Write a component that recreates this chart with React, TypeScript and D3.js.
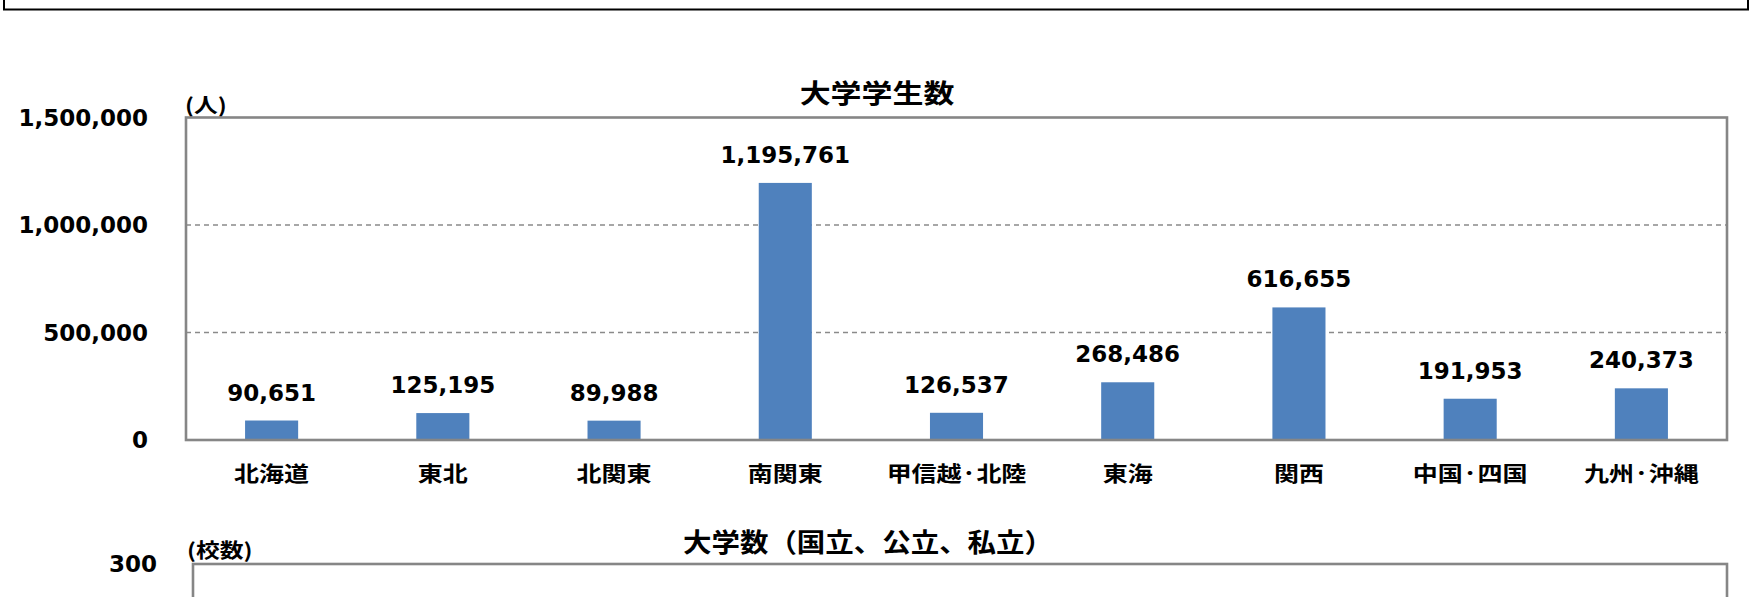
import * as d3 from 'd3';

const CATEGORIES = ['北海道', '東北', '北関東', '南関東', '甲信越·北陸', '東海', '関西', '中国·四国', '九州·沖縄'];
const STUDENTS = [90651, 125195, 89988, 1195761, 126537, 268486, 616655, 191953, 240373];
const STUDENT_TICKS = [0, 500000, 1000000, 1500000];
const SCHOOL_TICKS = [0, 100, 200, 300];

const WIDTH = 1754;
const HEIGHT = 597;
const NUM_FONT = '"DejaVu Sans", Verdana, sans-serif';
const JP_FONT = '"Noto Sans CJK JP", "Noto Sans CJK SC", sans-serif';
const SX = 1.19; // the source picture is stretched sideways
const BAR_COLOR = '#4F81BD';
const FRAME_COLOR = '#868686';

const fmt = d3.format(',');

function JpText({ x, y, size, children, anchor = 'middle' }: any) {
  return (
    <text
      transform={`translate(${x},${y}) scale(${SX},1)`}
      textAnchor={anchor}
      dominantBaseline="central"
      fontFamily={JP_FONT}
      fontWeight="bold"
      fontSize={size}
      fill="#000"
    >
      {children}
    </text>
  );
}

export default function App() {
  // chart 1: 大学学生数
  const left = 186;
  const right = 1727;
  const top1 = 117.5;
  const bottom1 = 440;

  const x = d3
    .scaleBand<string>()
    .domain(CATEGORIES)
    .range([left, right])
    .paddingInner(0.69)
    .paddingOuter(0.345);
  const y1 = d3.scaleLinear().domain([0, 1500000]).range([bottom1, top1]);

  // chart 2: 大学数 (only its top is inside the picture)
  const left2 = 193;
  const top2 = 564;
  const y2 = d3.scaleLinear().domain([0, 300]).range([top2 + 323, top2]);

  return (
    <svg
      width={WIDTH}
      height={HEIGHT}
      style={{ position: 'absolute', left: 0, top: 0, background: '#fff' }}
    >
      <rect x={0} y={0} width={WIDTH} height={HEIGHT} fill="#fff" />
      {/* box above the charts */}
      <rect x={4} y={-20} width={1744} height={29.5} fill="none" stroke="#000" strokeWidth={2} />

      {/* ---- chart 1 ---- */}
      <JpText x={877} y={92} size={26}>大学学生数</JpText>
      <JpText x={185} y={104} size={20} anchor="start">(人)</JpText>

      {STUDENT_TICKS.filter((t) => t > 0 && t < 1500000).map((t) => (
        <line
          key={t}
          x1={left}
          x2={right}
          y1={y1(t)}
          y2={y1(t)}
          stroke="#8a8a8a"
          strokeWidth={1.4}
          strokeDasharray="5,4"
        />
      ))}

      {STUDENTS.map((v, i) => (
        <rect
          key={CATEGORIES[i]}
          x={x(CATEGORIES[i])}
          y={y1(v)}
          width={x.bandwidth()}
          height={bottom1 - y1(v)}
          fill={BAR_COLOR}
        />
      ))}

      <rect
        x={left}
        y={top1}
        width={right - left}
        height={bottom1 - top1}
        fill="none"
        stroke={FRAME_COLOR}
        strokeWidth={2.6}
      />

      {STUDENT_TICKS.map((t) => (
        <text
          key={t}
          x={148}
          y={y1(t)}
          dy="0.36em"
          textAnchor="end"
          fontFamily={NUM_FONT}
          fontWeight="bold"
          fontSize={23}
        >
          {fmt(t)}
        </text>
      ))}

      {STUDENTS.map((v, i) => (
        <text
          key={CATEGORIES[i]}
          x={(x(CATEGORIES[i]) as number) + x.bandwidth() / 2}
          y={y1(v) - 20}
          textAnchor="middle"
          fontFamily={NUM_FONT}
          fontWeight="bold"
          fontSize={23}
        >
          {fmt(v)}
        </text>
      ))}

      {CATEGORIES.map((c) => (
        <JpText key={c} x={(x(c) as number) + x.bandwidth() / 2} y={472} size={21}>
          {c}
        </JpText>
      ))}

      {/* ---- chart 2 ---- */}
      <text
        x={868}
        y={540}
        textAnchor="middle"
        dominantBaseline="central"
        fontFamily={JP_FONT}
        fontWeight="bold"
        fontSize={26}
        textLength={370}
        lengthAdjust="spacingAndGlyphs"
      >
        大学数（国立、公立、私立）
      </text>
      <JpText x={187} y={549} size={20} anchor="start">(校数)</JpText>

      <rect
        x={left2}
        y={top2}
        width={right - left2}
        height={y2(0) - top2}
        fill="none"
        stroke={FRAME_COLOR}
        strokeWidth={2.6}
      />

      {/* only the ticks that fall inside the picture */}
      {SCHOOL_TICKS.filter((t) => y2(t) < HEIGHT - 10).map((t) => (
        <text
          key={t}
          x={157}
          y={y2(t)}
          dy="0.36em"
          textAnchor="end"
          fontFamily={NUM_FONT}
          fontWeight="bold"
          fontSize={23}
        >
          {fmt(t)}
        </text>
      ))}
    </svg>
  );
}
